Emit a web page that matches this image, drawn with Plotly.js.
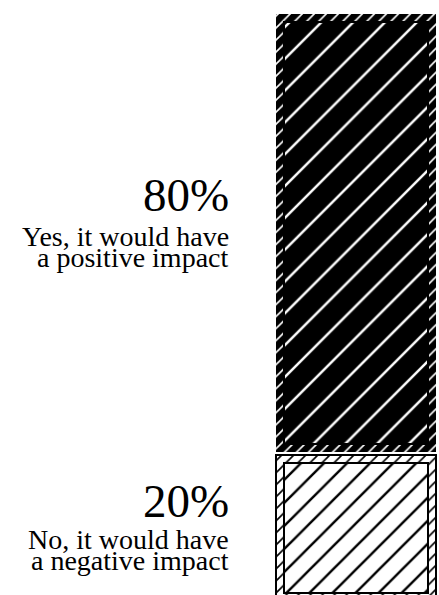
<!DOCTYPE html>
<html>
<head>
<meta charset="utf-8">
<script src="https://cdn.plot.ly/plotly-3.0.1.min.js"></script>
<style>
  html, body { margin: 0; padding: 0; background: #fff; overflow: hidden; }
  #chart { width: 439px; height: 595px; }
</style>
</head>
<body>
<div id="chart"></div>
<script>
// ---- data ----
const categories = ['Yes, it would have a positive impact', 'No, it would have a negative impact'];
const shares = [80, 20];
const pctLabels = ['80%', '20%'];
const labelLines = [
  ['Yes, it would have', 'a positive impact'],
  ['No, it would have', 'a negative impact']
];

// ---- layout constants ----
const W = 439, H = 595;
const mT = 14, mL = 266, mR = 0, mB = 0;
const plotH = H - mT - mB;
const plotW = W - mL - mR;
const yMax = 100;
const yMin = -5.4;
const pxPerUnit = plotH / (yMax - yMin);
const barPx = 160;              // bar width in px
const barCenterPx = 356;        // bar center in page px
const framePx = 8;              // hatched frame thickness
const gapPx = 3;                // white gap between segments
const insetY = framePx / pxPerUnit;
const gapY = gapPx / pxPerUnit;
const insetW = 1 - 2 * framePx / barPx;

const styles = [
  { bg: '#000', fg: '#fff', outerLine: 0, lineColor: '#000', hatch: 22.5, sol: 0.11, nudge: 0 },    // Yes (top)
  { bg: '#fff', fg: '#000', outerLine: 2, lineColor: '#000', hatch: 16.3, sol: 0.15, nudge: -13 }   // No (bottom)
];

// stacked bottom-up: No at the bottom, Yes above
const order = [1, 0];
const segs = [];
let cum = 0;
order.forEach(i => {
  segs[i] = { lo: cum, hi: cum + shares[i] };
  cum += shares[i];
});
const segDraw = [];
order.forEach((i, k) => {
  let lo = segs[i].lo, hi = segs[i].hi;
  if (k === 0) lo = yMin - (framePx - 2) / pxPerUnit;   // bottom segment runs off the page
  else lo = lo + gapY;
  segDraw[i] = { lo, hi };
});

const traces = [];
order.forEach(i => {
  const s = styles[i], d = segDraw[i];
  // outer bar: dense hatched frame
  traces.push({
    type: 'bar', x: [0], y: [d.hi - d.lo], base: [d.lo], width: [1],
    name: categories[i], hoverinfo: 'skip', showlegend: false,
    marker: {
      color: s.bg,
      line: { color: s.lineColor, width: s.outerLine },
      pattern: { shape: '/', size: 8.5, solidity: 0.2, bgcolor: s.bg, fgcolor: s.fg, fillmode: 'replace' }
    }
  });
  // inner bar: sparse hatch with border
  traces.push({
    type: 'bar', x: [0], y: [d.hi - d.lo - 2 * insetY], base: [d.lo + insetY], width: [insetW],
    name: categories[i], hoverinfo: 'skip', showlegend: false,
    marker: {
      color: s.bg,
      line: { color: s.lineColor, width: 2 },
      pattern: { shape: '/', size: s.hatch, solidity: s.sol, bgcolor: s.bg, fgcolor: s.fg, fillmode: 'replace' }
    }
  });
});

// annotations, centred on the visible middle of each segment
const textX = (231 - mL) / plotW;
const font = 'Liberation Serif, Times New Roman, serif';
const annotations = [];
order.forEach(i => {
  const lo = Math.max(segDraw[i].lo, yMin), hi = segDraw[i].hi;
  const mid = (lo + hi) / 2;
  const n = styles[i].nudge;
  annotations.push({
    xref: 'paper', yref: 'y', x: textX, y: mid, xanchor: 'right', yanchor: 'middle',
    text: pctLabels[i], showarrow: false, yshift: 38 + n + (i === 1 ? -1 : 0),
    font: { family: font, size: 47, color: '#000' }
  });
  labelLines[i].forEach((ln, j) => {
    annotations.push({
      xref: 'paper', yref: 'y', x: textX, y: mid, xanchor: 'right', yanchor: 'middle',
      text: ln, showarrow: false, yshift: -4 - 21 * j + n + (i === 1 ? 2 : 0),
      font: { family: font, size: 28, color: '#000' }
    });
  });
});

const layout = {
  width: W, height: H,
  margin: { t: mT, l: mL, r: mR, b: mB, pad: 0 },
  paper_bgcolor: '#fff', plot_bgcolor: '#fff',
  barmode: 'overlay',
  showlegend: false,
  xaxis: {
    range: [-(barCenterPx - mL) / barPx, (W - mR - barCenterPx) / barPx],
    visible: false, fixedrange: true
  },
  yaxis: { range: [yMin, yMax], visible: false, fixedrange: true },
  annotations: annotations
};

Plotly.newPlot('chart', traces, layout, { staticPlot: true, displayModeBar: false });
</script>
</body>
</html>
